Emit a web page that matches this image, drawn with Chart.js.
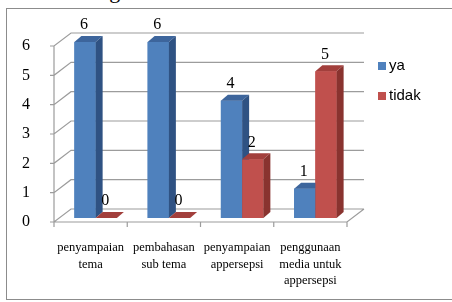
<!DOCTYPE html>
<html>
<head>
<meta charset="utf-8">
<script src="https://cdn.jsdelivr.net/npm/chart.js@4"></script>
<style>
    html, body { margin: 0; padding: 0; background: #fff; overflow: hidden; }
    #wrap { position: relative; width: 452px; height: 302px; overflow: hidden; }
    .above { position: absolute; left: 28px; top: -22px; font: 22px "Liberation Serif", serif; color: #000; white-space: nowrap; }
    .frame { position: absolute; left: 6px; top: 8px; width: 470px; height: 290px; border: 1px solid #8c8c8c; }
    #chart { position: absolute; left: 0; top: 0; }
</style>
</head>
<body>
<div id="wrap">
    <div class="above">data sebagai berikut.</div>
    <div class="frame"></div>
    <canvas id="chart" width="452" height="302"></canvas>
</div>
<script>
const categories = [
    ['penyampaian', 'tema'],
    ['pembahasan', 'sub tema'],
    ['penyampaian', 'appersepsi'],
    ['penggunaan', 'media untuk', 'appersepsi'],
];
const yaValues = [6, 6, 4, 1];
const tidakValues = [0, 0, 2, 5];
const yTicks = [0, 1, 2, 3, 4, 5, 6];
const seriesNames = ['ya', 'tidak'];

// face colours: front, top, side
const faces = [
    { front: '#4f81bd', top: '#3d659c', side: '#2f5283' },
    { front: '#c0504d', top: '#a23f3c', side: '#89332f' },
];

const WALL = { dx: 17, dy: -13 };   // depth of the back wall
const BAR = { dx: 7, dy: -6 };      // depth of each column
const SHIFT = { x: 5, y: -4 };      // columns sit a bit into the floor

const grid3d = {
    id: 'grid3d',
    beforeDatasetsDraw(chart) {
        const { ctx, chartArea: a, scales: { y } } = chart;
        ctx.save();
        ctx.strokeStyle = '#9c9c9c';
        ctx.lineWidth = 1.2;
        ctx.beginPath();
        yTicks.forEach(v => {
            const py = y.getPixelForValue(v);
            ctx.moveTo(a.left - 4, py);
            ctx.lineTo(a.left, py);
            ctx.lineTo(a.left + WALL.dx, py + WALL.dy);
            ctx.lineTo(a.right + WALL.dx, py + WALL.dy);
        });
        // axis line and floor front edge
        ctx.moveTo(a.left, y.getPixelForValue(yTicks[yTicks.length - 1]));
        ctx.lineTo(a.left, a.bottom);
        ctx.lineTo(a.right, a.bottom);
        ctx.lineTo(a.right + WALL.dx, a.bottom + WALL.dy);
        // category ticks
        for (let i = 0; i <= categories.length; i++) {
            const px = a.left + (a.right - a.left) * i / categories.length;
            ctx.moveTo(px, a.bottom);
            ctx.lineTo(px, a.bottom + 5);
        }
        ctx.stroke();
        ctx.restore();

        ctx.save();
        ctx.translate(SHIFT.x, SHIFT.y);
    },
    afterDatasetsDraw(chart) {
        const ctx = chart.ctx;
        const metas = chart.data.datasets.map((d, i) => chart.getDatasetMeta(i));
        for (let j = 0; j < categories.length; j++) {
            metas.forEach((meta, i) => {
                const { x, y, base, width } = meta.data[j].getProps(['x', 'y', 'base', 'width'], true);
                const l = x - width / 2, r = x + width / 2;
                const c = faces[i];
                ctx.fillStyle = c.front;
                ctx.fillRect(l, y, width, base - y);
                ctx.fillStyle = c.top;
                ctx.beginPath();
                ctx.moveTo(l, y);
                ctx.lineTo(l + BAR.dx, y + BAR.dy);
                ctx.lineTo(r + BAR.dx, y + BAR.dy);
                ctx.lineTo(r, y);
                ctx.closePath();
                ctx.fill();
                ctx.fillStyle = c.side;
                ctx.beginPath();
                ctx.moveTo(r, y);
                ctx.lineTo(r + BAR.dx, y + BAR.dy);
                ctx.lineTo(r + BAR.dx, base + BAR.dy);
                ctx.lineTo(r, base);
                ctx.closePath();
                ctx.fill();
            });
        }
        ctx.fillStyle = '#000';
        ctx.font = '16px "Liberation Serif"';
        ctx.textAlign = 'center';
        ctx.textBaseline = 'middle';
        metas.forEach((meta, i) => {
            meta.data.forEach((bar, j) => {
                const { x, y } = bar.getProps(['x', 'y'], true);
                ctx.fillText(chart.data.datasets[i].data[j], x - 1, y - 17);
            });
        });
        ctx.restore();
    },
    afterDraw(chart) {
        const ctx = chart.ctx;
        ctx.save();
        ctx.font = '15px "Liberation Sans"';
        ctx.textBaseline = 'middle';
        chart.data.datasets.forEach((d, i) => {
            const ly = 66 + i * 30;
            ctx.fillStyle = d.backgroundColor;
            ctx.fillRect(378, ly - 4, 8, 8);
            ctx.fillStyle = '#000';
            ctx.fillText(d.label, 389, ly);
        });
        ctx.restore();
    }
};

new Chart(document.getElementById('chart'), {
    type: 'bar',
    data: {
        labels: categories,
        datasets: [
            { label: seriesNames[0], data: yaValues, backgroundColor: faces[0].front, categoryPercentage: 0.58, barPercentage: 1 },
            { label: seriesNames[1], data: tidakValues, backgroundColor: faces[1].front, categoryPercentage: 0.58, barPercentage: 1 },
        ],
    },
    options: {
        responsive: false,
        animation: false,
        layout: { padding: { top: 46, right: 105, left: 0, bottom: 0 } },
        plugins: { legend: { display: false }, tooltip: { enabled: false } },
        scales: {
            x: {
                grid: { display: false },
                border: { display: false },
                ticks: { color: '#000', padding: 9, maxRotation: 0, autoSkip: false, font: { family: 'Liberation Serif', size: 12.5, lineHeight: 1.35 } },
                afterFit: s => { s.height = 80; },
            },
            y: {
                min: 0,
                max: 6,
                grid: { display: false },
                border: { display: false },
                ticks: { stepSize: 1, color: '#000', padding: 16, font: { family: 'Liberation Serif', size: 16 } },
                afterFit: s => { s.width = 54; },
            },
        },
    },
    plugins: [grid3d],
});
</script>
</body>
</html>
